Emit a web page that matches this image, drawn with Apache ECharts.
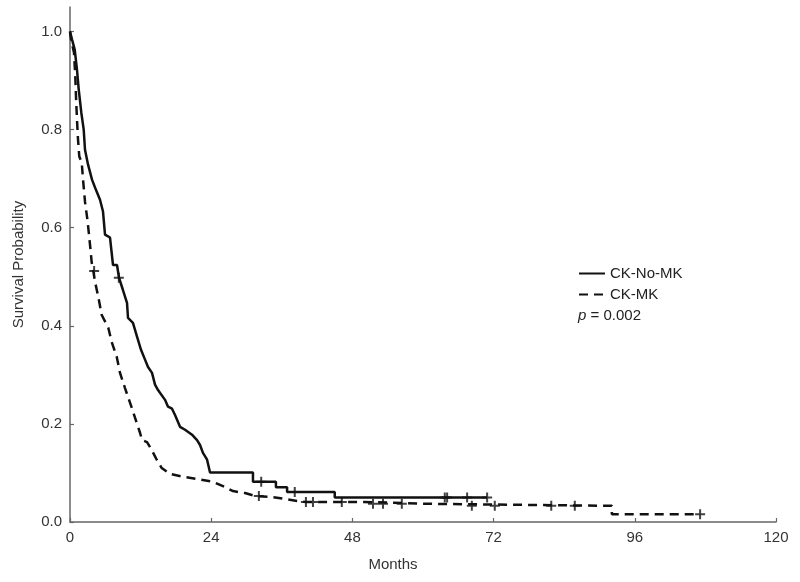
<!DOCTYPE html>
<html>
<head>
<meta charset="utf-8">
<script src="https://cdn.jsdelivr.net/npm/echarts@6/dist/echarts.min.js"></script>
<style>html,body{margin:0;padding:0;background:#fff}#c{width:800px;height:582px}</style>
</head>
<body>
<div id="c"></div>
<script>
// ---- data (curve vertices) ----
const xTicks = [0, 24, 48, 72, 96, 120];
const yTicks = [0, 0.2, 0.4, 0.6, 0.8, 1.0];

const noMkTime = [0, 0.34, 0.8, 1.19, 1.48, 1.92, 2.33, 2.55, 3.06, 3.74, 4.25, 5.1, 5.61, 5.95, 6.8, 7.31, 7.99, 8.33, 9.0, 9.69, 9.86, 10.7, 11.39, 12.07, 12.75, 13.26, 13.94, 14.45, 14.96, 16.15, 16.66, 17.34, 17.85, 18.7, 19.55, 20.74, 21.59, 22.1, 22.6, 23.3, 23.8, 31.1, 31.1, 35.0, 35.0, 36.9, 36.9, 45.0, 45.0, 70.9];
const noMkSurv = [1.0, 0.984, 0.963, 0.922, 0.882, 0.835, 0.80, 0.759, 0.729, 0.698, 0.682, 0.657, 0.633, 0.586, 0.58, 0.524, 0.524, 0.498, 0.473, 0.447, 0.416, 0.406, 0.378, 0.351, 0.331, 0.316, 0.304, 0.28, 0.269, 0.249, 0.235, 0.231, 0.218, 0.194, 0.188, 0.178, 0.167, 0.157, 0.141, 0.127, 0.101, 0.101, 0.082, 0.082, 0.071, 0.071, 0.061, 0.061, 0.050, 0.050];
const noMkCensorTime = [8.3, 32.5, 38.2, 63.7, 64.1, 67.5, 70.9];
const noMkCensorSurv = [0.498, 0.082, 0.061, 0.050, 0.050, 0.050, 0.050];

const mkTime = [0, 0.17, 0.68, 0.9, 1.02, 1.19, 1.36, 1.58, 1.99, 2.26, 2.55, 2.94, 3.23, 3.52, 3.69, 3.96, 4.25, 4.81, 5.39, 6.51, 7.09, 7.94, 8.5, 9.35, 10.49, 11.34, 11.9, 12.24, 13.09, 13.89, 14.74, 15.59, 17.0, 19.26, 21.54, 24.3, 26.0, 27.7, 29.75, 31.5, 34.3, 36.5, 38.6, 40.0, 50.0, 50.0, 61.2, 61.2, 92.1, 92.1, 107.1];
const mkSurv = [1.0, 0.984, 0.957, 0.908, 0.867, 0.82, 0.78, 0.745, 0.733, 0.692, 0.653, 0.618, 0.586, 0.551, 0.529, 0.512, 0.49, 0.459, 0.422, 0.396, 0.367, 0.337, 0.304, 0.273, 0.233, 0.202, 0.182, 0.167, 0.163, 0.147, 0.127, 0.11, 0.098, 0.092, 0.088, 0.082, 0.073, 0.063, 0.059, 0.053, 0.051, 0.047, 0.043, 0.041, 0.041, 0.037, 0.037, 0.033, 0.033, 0.016, 0.016];
const mkCensorTime = [4.1, 32.1, 40.1, 41.3, 46.2, 51.5, 53.2, 56.4, 68.3, 72.2, 81.8, 85.8, 107.1];
const mkCensorSurv = [0.512, 0.053, 0.041, 0.041, 0.041, 0.037, 0.037, 0.037, 0.033, 0.033, 0.033, 0.033, 0.016];

const seriesNames = ['CK-No-MK', 'CK-MK'];
const pText = '{i|p} = 0.002';

// ---- chart ----
const zip = (a, b) => a.map((v, i) => [v, b[i]]);
const plus = 'path://M4,0L6,0L6,10L4,10Z M0,4L10,4L10,6L0,6Z';
const ink = '#111';
const axisCol = '#666';
const font = 'Liberation Sans, Arial, sans-serif';

const chart = echarts.init(document.getElementById('c'), null, {renderer: 'canvas'});
chart.setOption({
  animation: false,
  backgroundColor: '#fff',
  grid: {left: 70, right: 24, top: 7, bottom: 60},
  xAxis: {
    type: 'value', min: 0, max: 120, interval: 24,
    name: 'Months', nameLocation: 'middle', nameGap: 35,
    nameTextStyle: {fontSize: 15, color: '#333', fontFamily: font, padding: [0, 60, 0, 0]},
    axisLine: {show: true, lineStyle: {color: axisCol, width: 1.5}},
    axisTick: {show: true, inside: true, length: 4, lineStyle: {color: axisCol, width: 1.2}, customValues: xTicks},
    axisLabel: {fontSize: 15, color: '#333', fontFamily: font, margin: 8, customValues: xTicks},
    splitLine: {show: false}
  },
  yAxis: {
    type: 'value', min: 0, max: 1.05,
    name: 'Survival Probability', nameLocation: 'middle', nameGap: 44, nameRotate: 90,
    nameTextStyle: {fontSize: 15, color: '#333', fontFamily: font},
    axisLine: {show: true, lineStyle: {color: axisCol, width: 1.5}},
    axisTick: {show: true, inside: true, length: 4, lineStyle: {color: axisCol, width: 1.2}, customValues: yTicks},
    axisLabel: {fontSize: 15, color: '#333', fontFamily: font, margin: 8, customValues: yTicks,
      formatter: v => v.toFixed(1)},
    splitLine: {show: false}
  },
  legend: {
    data: seriesNames, orient: 'vertical', left: 573, top: 261,
    itemWidth: 26, itemHeight: 14, itemGap: 6,
    itemStyle: {opacity: 0, borderWidth: 0},
    textStyle: {fontSize: 15, color: '#222', fontFamily: font}
  },
  graphic: [{
    type: 'text', left: 578, top: 308,
    style: {text: pText, fontSize: 15, fill: '#222', fontFamily: font,
      rich: {i: {fontStyle: 'italic', fontSize: 15, fill: '#222', fontFamily: font}}}
  }],
  series: [
    {name: seriesNames[0], type: 'line', symbol: 'none', data: zip(noMkTime, noMkSurv),
     lineStyle: {color: ink, width: 2.5}, itemStyle: {color: ink}},
    {name: seriesNames[1], type: 'line', symbol: 'none', data: zip(mkTime, mkSurv),
     lineStyle: {color: ink, width: 2.5, type: [9, 6]}, itemStyle: {color: ink}},
    {name: 'censor1', type: 'scatter', symbol: plus, symbolSize: 10, data: zip(noMkCensorTime, noMkCensorSurv),
     itemStyle: {color: ink}},
    {name: 'censor2', type: 'scatter', symbol: plus, symbolSize: 10, data: zip(mkCensorTime, mkCensorSurv),
     itemStyle: {color: ink}}
  ]
});
</script>
</body>
</html>
